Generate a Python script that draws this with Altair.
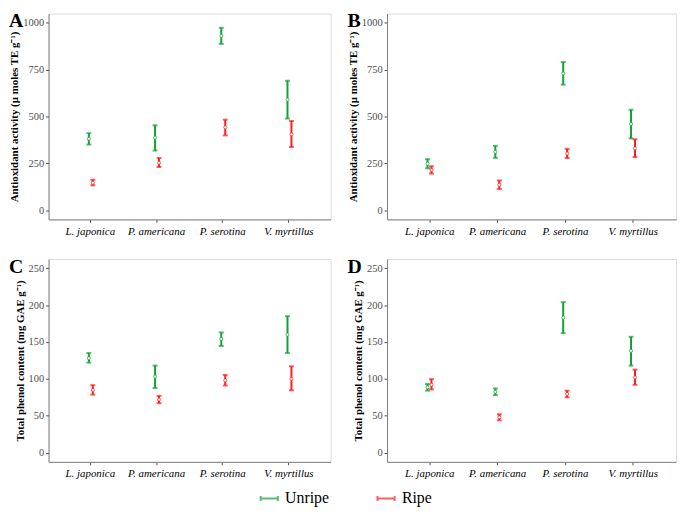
import altair as alt
import pandas as pd

categories = ["L. japonica", "P. americana", "P. serotina", "V. myrtillus"]
groups = ["Unripe", "Ripe"]
colors = ["#12a137", "#fd1d1d"]

# Panel A: antioxidant activity (unripe / ripe)
a_unripe_mean = [381, 387, 931, 590]
a_unripe_low = [350, 318, 888, 489]
a_unripe_high = [411, 453, 974, 691]
a_ripe_mean = [146, 253, 442, 405]
a_ripe_low = [132, 230, 399, 337]
a_ripe_high = [162, 278, 483, 476]

# Panel B
b_unripe_mean = [248, 311, 730, 460]
b_unripe_low = [223, 279, 670, 383]
b_unripe_high = [272, 343, 791, 536]
b_ripe_mean = [214, 135, 302, 330]
b_ripe_low = [195, 112, 278, 283]
b_ripe_high = [234, 158, 327, 378]

# Panel C: total phenol content
c_unripe_mean = [128, 103, 154, 160]
c_unripe_low = [122, 87.5, 144.6, 135]
c_unripe_high = [135, 118, 163, 185]
c_ripe_mean = [85, 72, 98, 100]
c_ripe_low = [78.6, 67, 91, 84.4]
c_ripe_high = [91.5, 77, 105.4, 117]

# Panel D
d_unripe_mean = [88.6, 82.5, 183, 138]
d_unripe_low = [84, 78, 162, 118]
d_unripe_high = [93, 87, 204, 157]
d_ripe_mean = [92, 48, 79.5, 102]
d_ripe_low = [85.7, 43.8, 75, 92]
d_ripe_high = [99.6, 52, 84, 112.5]

ytitle_ab = "Antioxidant activity  (\u00b5 moles TE g\u207b\u00b9)"
ytitle_cd = "Total phenol content (mg GAE g\u207b\u00b9)"
ticks_ab = [0, 250, 500, 750, 1000]
ticks_cd = [0, 50, 100, 150, 200, 250]

SERIF = "Liberation Serif"


def make_df(um, ul, uh, rm, rl, rh):
    rows = []
    for i, sp in enumerate(categories):
        rows.append({"species": sp, "group": "Unripe", "mean": um[i], "low": ul[i], "high": uh[i]})
        rows.append({"species": sp, "group": "Ripe", "mean": rm[i], "low": rl[i], "high": rh[i]})
    return pd.DataFrame(rows)


def panel(df, letter, ytitle, ydomain, yticks, width, height):
    yscale = alt.Scale(domain=ydomain, nice=False, zero=False)
    yaxis = alt.Axis(values=yticks, format="d", title=ytitle, grid=False, labelFont=SERIF,
                     labelFontSize=10.5, labelColor="#4d4d4d", titleFont=SERIF, titleFontSize=11,
                     titleFontWeight="bold", titleColor="black", tickSize=3, tickColor="#4d4d4d",
                     domainColor="#7f7f7f", labelPadding=2, titlePadding=3)
    base = alt.Chart(df).encode(
        x=alt.X("species:N", sort=categories,
                scale=alt.Scale(paddingInner=0, paddingOuter=0.13),
                axis=alt.Axis(title=None, labelAngle=0, labelFont=SERIF, labelFontSize=11,
                              labelFontStyle="italic", labelColor="black", tickSize=3,
                              tickColor="#4d4d4d", domainColor="#7f7f7f", labelPadding=3)),
        xOffset=alt.XOffset("group:N", sort=groups,
                            scale=alt.Scale(paddingInner=0, paddingOuter=0, range=[30, 38])),
        color=alt.Color("group:N", sort=groups,
                        scale=alt.Scale(domain=groups, range=colors),
                        legend=alt.Legend(title=None, orient="none", direction="horizontal",
                                          legendX=213, legendY=480, padding=0,
                                          symbolType="M-1,-0.3V0.3M-1,0H1M1,-0.3V0.3",
                                          symbolSize=300, symbolStrokeWidth=2,
                                          labelFont=SERIF, labelFontSize=16, labelColor="black",
                                          columnPadding=44, labelOffset=6)),
    )
    rule = base.mark_rule(strokeWidth=2).encode(
        y=alt.Y("low:Q", scale=yscale, axis=yaxis), y2="high:Q")
    cap_hi = base.mark_tick(orient="horizontal", size=5, thickness=2).encode(y="high:Q")
    cap_lo = base.mark_tick(orient="horizontal", size=5, thickness=2).encode(y="low:Q")
    pt = base.mark_point(filled=False, fill="white", fillOpacity=1, size=10, strokeWidth=0.7,
                         opacity=1).encode(y="mean:Q")
    label = alt.Chart(pd.DataFrame({"t": [letter]})).mark_text(
        font=SERIF, fontSize=20, fontWeight="bold", align="left", baseline="top", color="black"
    ).encode(text="t:N", x=alt.value(-40), y=alt.value(-2))
    return alt.layer(rule, cap_hi, cap_lo, pt, label).properties(width=width, height=height)


pA = panel(make_df(a_unripe_mean, a_unripe_low, a_unripe_high, a_ripe_mean, a_ripe_low, a_ripe_high),
           "A", ytitle_ab, [-50, 1050], ticks_ab, 285, 208)
pB = panel(make_df(b_unripe_mean, b_unripe_low, b_unripe_high, b_ripe_mean, b_ripe_low, b_ripe_high),
           "B", ytitle_ab, [-50, 1050], ticks_ab, 292, 208)
pC = panel(make_df(c_unripe_mean, c_unripe_low, c_unripe_high, c_ripe_mean, c_ripe_low, c_ripe_high),
           "C", ytitle_cd, [-12.5, 262.5], ticks_cd, 285, 205)
pD = panel(make_df(d_unripe_mean, d_unripe_low, d_unripe_high, d_ripe_mean, d_ripe_low, d_ripe_high),
           "D", ytitle_cd, [-12.5, 262.5], ticks_cd, 292, 205)

top = alt.hconcat(pA, pB, spacing=15).resolve_scale(y="independent", x="independent")
bottom = alt.hconcat(pC, pD, spacing=15).resolve_scale(y="independent", x="independent")
chart = alt.vconcat(top, bottom, spacing=19).resolve_scale(
    y="independent", x="independent", color="shared"
).properties(padding=0).configure_view(stroke="#c4c4c4", strokeWidth=1.2).configure(
    background="white"
)

chart.save("out.html", embed_options={"renderer": "svg", "actions": False})
